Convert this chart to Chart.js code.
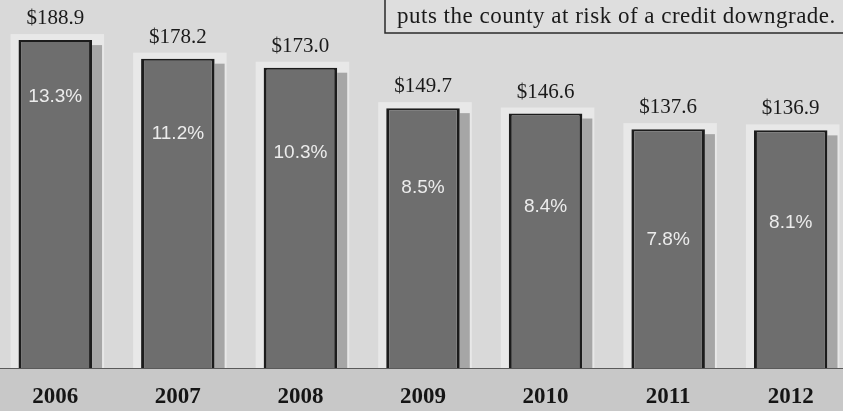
<!DOCTYPE html>
<html>
<head>
<meta charset="utf-8">
<script src="https://cdn.jsdelivr.net/npm/chart.js@4.4.1/dist/chart.umd.min.js"></script>
<style>
  html, body { margin: 0; padding: 0; overflow: hidden; background: #d9d9d9; }
  #wrap { position: absolute; left: -6px; top: 0; width: 858px; height: 411px; }
</style>
</head>
<body>
<div id="wrap"><canvas id="c" width="858" height="411"></canvas></div>
<script>
// Fiscal years shown along the bottom
const years = ['2006', '2007', '2008', '2009', '2010', '2011', '2012'];
// Amount per year, in millions of dollars
const amounts = [188.9, 178.2, 173.0, 149.7, 146.6, 137.6, 136.9];
// Share of the budget, in percent
const shares = [13.3, 11.2, 10.3, 8.5, 8.4, 7.8, 8.1];
// Caption line in the boxed note
const noteText = 'puts the county at risk of a credit downgrade.';

// canvas is shifted left by this many px inside the page
const SHIFT = 6;
// distance of each percent label below its bar top
const shareLabelDrop = [57, 75, 85, 80, 93, 111, 92];

const decor = {
  id: 'decor',
  beforeDraw(chart) {
    const { ctx, chartArea, width, height } = chart;
    ctx.save();
    ctx.fillStyle = '#d9d9d9';
    ctx.fillRect(0, 0, width, height);
    ctx.fillStyle = '#c8c8c8';
    ctx.fillRect(0, chartArea.bottom, width, height - chartArea.bottom);
    ctx.restore();
  },
  beforeDatasetsDraw(chart) {
    const { ctx } = chart;
    const meta = chart.getDatasetMeta(0);
    ctx.save();
    meta.data.forEach((bar) => {
      const p = bar.getProps(['x', 'y', 'width', 'base'], true);
      const L = p.x - p.width / 2, R = p.x + p.width / 2;
      // pale backing panel
      ctx.fillStyle = '#e8e8e8';
      ctx.fillRect(L - 8, p.y - 6, p.width + 20, p.base - p.y + 6);
      // drop shadow on the right side
      ctx.fillStyle = '#a6a6a6';
      ctx.fillRect(R, p.y + 5, 10, p.base - p.y - 5);
    });
    ctx.restore();
  },
  afterDatasetsDraw(chart) {
    const { ctx, chartArea, width } = chart;
    const meta = chart.getDatasetMeta(0);
    ctx.save();
    // baseline rule
    ctx.strokeStyle = '#5a5a5a';
    ctx.lineWidth = 1;
    ctx.beginPath();
    ctx.moveTo(0, chartArea.bottom + 0.5);
    ctx.lineTo(width, chartArea.bottom + 0.5);
    ctx.stroke();

    ctx.textAlign = 'center';
    meta.data.forEach((bar, i) => {
      const p = bar.getProps(['x', 'y'], true);
      // dollar amount above the bar
      ctx.fillStyle = '#1a1a1a';
      ctx.font = '21px "Liberation Serif", serif';
      ctx.textBaseline = 'alphabetic';
      ctx.fillText('$' + amounts[i].toFixed(1), p.x, p.y - 16);
      // percent inside the bar
      ctx.fillStyle = '#ececec';
      ctx.font = '19px "Liberation Sans", sans-serif';
      ctx.textBaseline = 'middle';
      ctx.fillText(shares[i].toFixed(1) + '%', p.x, p.y + shareLabelDrop[i]);
    });

    // boxed note at the top right
    const bx = 385 + SHIFT, by = -2, bw = width - bx + 4, bh = 35;
    ctx.fillStyle = '#dedede';
    ctx.fillRect(bx, by, bw, bh);
    ctx.strokeStyle = '#2a2a2a';
    ctx.lineWidth = 1.5;
    ctx.strokeRect(bx, by, bw, bh);
    ctx.fillStyle = '#1a1a1a';
    ctx.font = '23px "Liberation Serif", serif';
    ctx.letterSpacing = '0.5px';
    ctx.textAlign = 'left';
    ctx.textBaseline = 'alphabetic';
    ctx.fillText(noteText, 397 + SHIFT, 23);
    ctx.letterSpacing = '0px';
    ctx.restore();
  }
};

new Chart(document.getElementById('c'), {
  type: 'bar',
  data: {
    labels: years,
    datasets: [{
      data: amounts,
      backgroundColor: '#6e6e6e',
      borderColor: '#1c1c1c',
      borderWidth: { left: 3, right: 3, top: 2, bottom: 0 },
      borderSkipped: false,
      barPercentage: 0.6,
      categoryPercentage: 1.0
    }]
  },
  options: {
    responsive: false,
    animation: false,
    devicePixelRatio: 1,
    layout: { padding: 0 },
    plugins: { legend: { display: false }, tooltip: { enabled: false } },
    scales: {
      y: { display: false, min: 0, max: 212 },
      x: {
        grid: { display: false, drawTicks: false },
        border: { display: false },
        ticks: {
          color: '#151515',
          padding: 15,
          font: { family: '"Liberation Serif", serif', size: 23, weight: 'bold' }
        },
        afterFit(scale) { scale.height = 43; }
      }
    }
  },
  plugins: [decor]
});
</script>
</body>
</html>
